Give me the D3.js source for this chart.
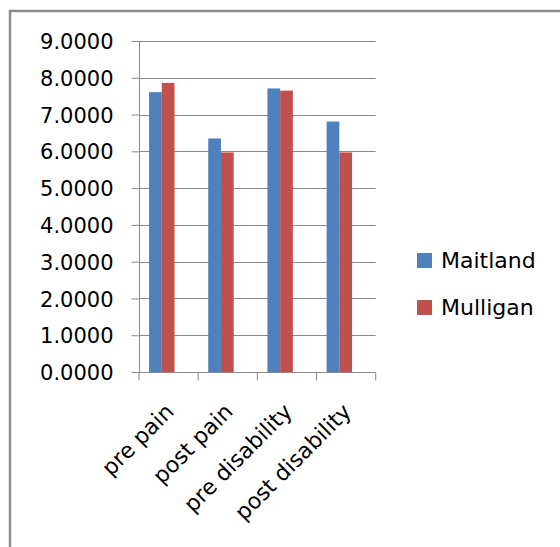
<!DOCTYPE html>
<html><head><meta charset="utf-8">
<script src="https://cdn.jsdelivr.net/npm/d3@7"></script>
<style>html,body{margin:0;padding:0;background:#fff;}svg{display:block;}</style>
</head><body>
<svg id="c" width="560" height="547"></svg>
<script>
const categories = ["pre pain", "post pain", "pre disability", "post disability"];
const seriesNames = ["Maitland", "Mulligan"];
const maitland = [7.61, 6.35, 7.71, 6.81];
const mulligan = [7.86, 5.97, 7.65, 5.97];
const yTicks = [0, 1, 2, 3, 4, 5, 6, 7, 8, 9];
const colors = ["#4F81BD", "#C0504D"];

const seriesValues = [maitland, mulligan];
const svg = d3.select("#c");
const font = "DejaVu Sans";

// outer frame (left and top edges visible)
svg.append("path").attr("d", "M10,547 V11 H560").attr("fill", "none")
  .attr("stroke", "#8c8c8c").attr("stroke-width", 2.5);

const x0 = d3.scaleBand().domain(categories).range([139, 375.7]).paddingInner(0).paddingOuter(0);
const bw = x0.bandwidth();
const barW = bw * 0.215;
const shift = bw * 0.115;
const x1 = d3.scaleBand().domain(seriesNames).range([bw / 2 - barW - shift, bw / 2 + barW - shift]);
const y = d3.scaleLinear().domain([0, 9]).range([372, 41]);

// gridlines
svg.append("g").selectAll("line").data(yTicks.filter(d => d > 0)).join("line")
  .attr("x1", 139).attr("x2", 375.7)
  .attr("y1", d => Math.round(y(d)) + 0.5).attr("y2", d => Math.round(y(d)) + 0.5)
  .attr("stroke", "#8a8a8a").attr("stroke-width", 1);

// bars
const rows = categories.map((c, i) => ({ c, vals: seriesNames.map((s, j) => ({ s, v: seriesValues[j][i], j })) }));
const g = svg.append("g").selectAll("g").data(rows).join("g")
  .attr("transform", d => `translate(${x0(d.c)},0)`);
g.selectAll("rect").data(d => d.vals).join("rect")
  .attr("x", d => x1(d.s)).attr("width", x1.bandwidth())
  .attr("y", d => y(d.v)).attr("height", d => y(0) - y(d.v))
  .attr("fill", d => colors[d.j]);

// y axis
const yAxis = d3.axisLeft(y).tickValues(yTicks).tickSize(8).tickPadding(18)
  .tickFormat(d3.format(".4f"));
const ya = svg.append("g").attr("transform", "translate(139.5,0)").call(yAxis);
ya.select(".domain").attr("stroke", "#8a8a8a").attr("d", `M0,${y(9)}V${y(0)}`);
ya.selectAll(".tick line").attr("stroke", "#8a8a8a");
ya.selectAll("text").attr("font-family", font).attr("font-size", 21).attr("fill", "#000").attr("dy", "0.36em");

// x axis
const xAxis = d3.axisBottom(x0).tickSize(0).tickFormat(d => d);
const xa = svg.append("g").attr("transform", `translate(0,${Math.round(y(0)) + 0.5})`).call(xAxis);
xa.select(".domain").attr("stroke", "#8a8a8a").attr("d", "M139,0H375.7");
const bounds = [139, ...categories.map(c => x0(c) + bw)];
xa.selectAll(".bt").data(bounds).join("line").attr("class", "bt")
  .attr("x1", d => d).attr("x2", d => d).attr("y1", 0).attr("y2", 8).attr("stroke", "#8a8a8a");
xa.selectAll(".tick text")
  .attr("font-family", font).attr("font-size", 22).attr("fill", "#000")
  .attr("text-anchor", "end").attr("dy", "0.35em")
  .attr("transform", "translate(1,35) rotate(-45)").attr("y", 0).attr("x", 0);

// legend
const leg = svg.append("g").selectAll("g").data(seriesNames).join("g")
  .attr("transform", (d, i) => `translate(417,${260 + i * 47})`);
leg.append("rect").attr("x", 0).attr("y", -7).attr("width", 15).attr("height", 15)
  .attr("fill", (d, i) => colors[i]);
leg.append("text").attr("x", 24).attr("y", 0).attr("dy", "0.36em")
  .attr("font-family", font).attr("font-size", 22).attr("fill", "#000").text(d => d);
</script>
</body></html>
